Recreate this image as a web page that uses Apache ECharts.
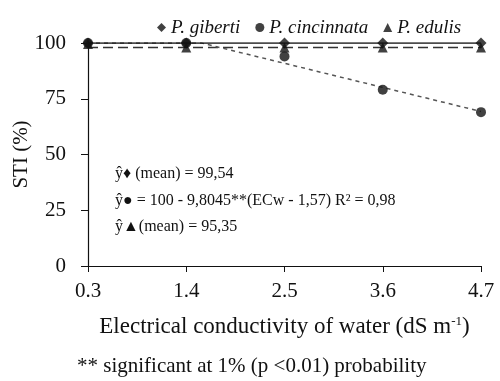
<!DOCTYPE html>
<html>
<head>
<meta charset="utf-8">
<style>
  html, body { margin: 0; padding: 0; background: #fff; }
  #chart { width: 500px; height: 381px; }
</style>
<script src="https://cdn.jsdelivr.net/npm/echarts@6/dist/echarts.min.js"></script>
</head>
<body>
<div id="chart"></div>
<script>
// salinity levels (dS m-1)
const ecLevels = [0.3, 1.4, 2.5, 3.6, 4.7]
const tickLabels = ['0.3', '1.4', '2.5', '3.6', '4.7']

// STI (%)
const giberti = [100, 100, 100, 100, 100]
const cincinnata = [100, 100, 94, 79, 69]
const edulis = [99.5, 98, 98, 98, 98]

// fitted lines (break points)
const cincinnataFit = [[0.3, 100], [1.57, 100], [4.7, 69.3]]
const edulisFit = [[0.3, 98], [4.7, 98]]
const gibertiFit = [[0.3, 100], [4.7, 100]]

const yTicks = [0, 25, 50, 75, 100]

const serif = '"Liberation Serif", "DejaVu Serif", serif'
const ink = '#111'

function pairs(values) {
  return ecLevels.map((x, i) => [x, values[i]])
}

const chart = echarts.init(document.getElementById('chart'))

chart.setOption({
  animation: false,
  backgroundColor: '#fff',
  grid: {
    left: 88,
    right: 19,
    top: 43,
    bottom: 115,
    outerBoundsMode: 'none'
  },
  legend: {
    top: 13,
    left: 152,
    itemWidth: 9,
    itemHeight: 9,
    itemGap: 15,
    data: ['P. giberti', 'P. cincinnata', 'P. edulis'],
    textStyle: {
      fontFamily: serif,
      fontStyle: 'italic',
      fontSize: 19,
      color: ink
    }
  },
  xAxis: {
    type: 'value',
    min: 0.3,
    max: 4.7,
    name: 'Electrical conductivity of water (dS m{sup|-1})',
    nameLocation: 'middle',
    nameGap: 49,
    nameMoveOverlap: false,
    nameTextStyle: {
      fontFamily: serif,
      fontSize: 23,
      color: ink,
      rich: {
        sup: { fontFamily: serif, fontSize: 13, color: ink, verticalAlign: 'top', padding: [0, 0, 10, 0] }
      }
    },
    splitLine: { show: false },
    axisLine: { lineStyle: { color: ink, width: 1.2 } },
    axisTick: {
      customValues: ecLevels,
      length: 6,
      lineStyle: { color: ink }
    },
    axisLabel: {
      customValues: ecLevels,
      formatter: (v) => tickLabels[ecLevels.indexOf(v)] || '',
      fontFamily: serif,
      fontSize: 21,
      color: ink,
      margin: 15
    }
  },
  yAxis: {
    type: 'value',
    min: 0,
    max: 100,
    interval: 25,
    name: 'STI (%)',
    nameLocation: 'middle',
    nameGap: 56,
    nameMoveOverlap: false,
    nameTextStyle: { fontFamily: serif, fontSize: 21, color: ink },
    splitLine: { show: false },
    axisLine: { show: true, lineStyle: { color: ink, width: 1.2 } },
    axisTick: { show: true, length: 7, lineStyle: { color: ink } },
    axisLabel: {
      formatter: (v) => (yTicks.indexOf(v) >= 0 ? String(v) : ''),
      fontFamily: serif,
      fontSize: 21,
      color: ink,
      margin: 22
    }
  },
  graphic: [
    {
      type: 'text',
      left: 115,
      top: 166,
      style: { text: 'ŷ♦ (mean) = 99,54', font: '16px ' + serif, fill: ink }
    },
    {
      type: 'text',
      left: 115,
      top: 193,
      style: { text: 'ŷ● = 100 - 9,8045**(ECw - 1,57) R² = 0,98', font: '16px ' + serif, fill: ink }
    },
    {
      type: 'text',
      left: 115,
      top: 219,
      style: { text: 'ŷ▲(mean) = 95,35', font: '16px ' + serif, fill: ink }
    },
    {
      type: 'text',
      left: 77,
      top: 356,
      style: { text: '** significant at 1% (p <0.01) probability', font: '21px ' + serif, fill: ink }
    }
  ],
  series: [
    {
      name: 'edulis fit',
      type: 'line',
      data: edulisFit,
      symbol: 'none',
      silent: true,
      lineStyle: { color: '#333', width: 1.5, type: [10, 5] },
      z: 1
    },
    {
      name: 'cincinnata fit',
      type: 'line',
      data: cincinnataFit,
      symbol: 'none',
      silent: true,
      lineStyle: { color: '#555', width: 1.5, type: [4, 4] },
      z: 1
    },
    {
      name: 'giberti fit',
      type: 'line',
      data: gibertiFit,
      symbol: 'none',
      silent: true,
      lineStyle: { color: ink, width: 1.5 },
      z: 2
    },
    {
      name: 'P. edulis',
      type: 'scatter',
      data: pairs(edulis),
      symbol: 'triangle',
      symbolSize: 10,
      itemStyle: { color: ink },
      z: 3
    },
    {
      name: 'P. cincinnata',
      type: 'scatter',
      data: pairs(cincinnata),
      symbol: 'circle',
      symbolSize: 10,
      itemStyle: { color: ink },
      z: 3
    },
    {
      name: 'P. giberti',
      type: 'scatter',
      data: pairs(giberti),
      symbol: 'diamond',
      symbolSize: 11,
      itemStyle: { color: ink },
      z: 4
    }
  ]
})
</script>
</body>
</html>
